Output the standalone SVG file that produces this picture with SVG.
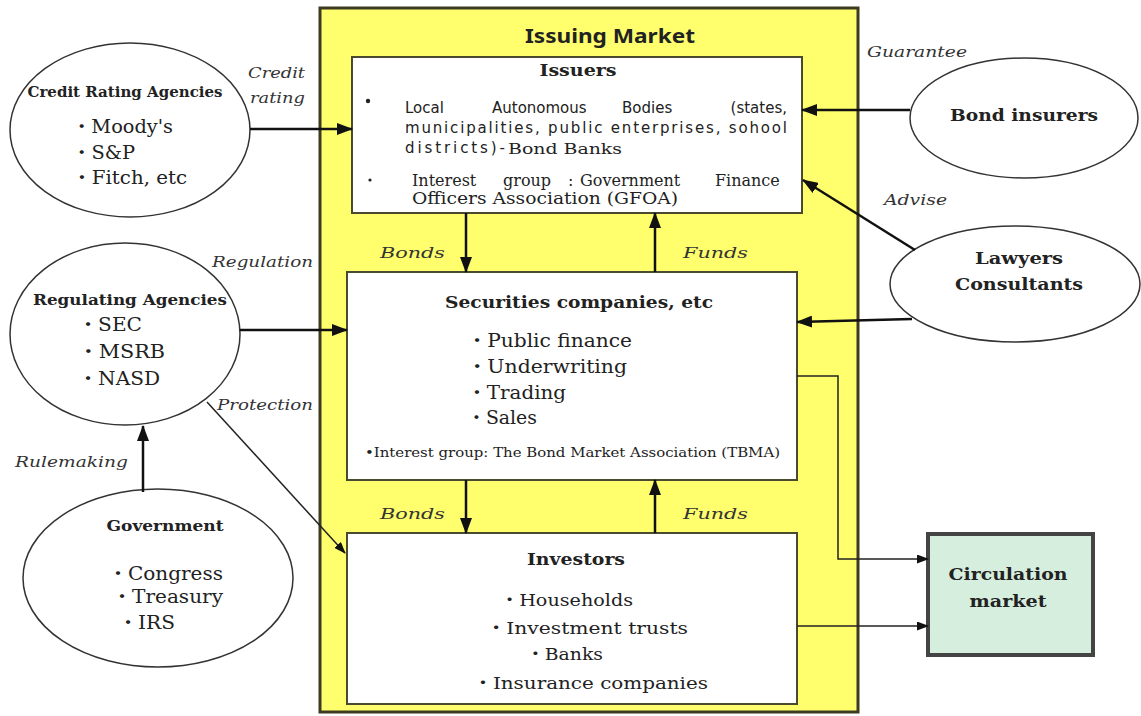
<svg xmlns="http://www.w3.org/2000/svg" width="1141" height="716" viewBox="0 0 1141 716">
<style>
.t{font-family:"DejaVu Serif","Noto Sans CJK JP",serif;fill:#222}
.b{font-weight:bold}
.lab{font-family:"DejaVu Serif",serif;font-style:italic;fill:#333;font-size:15px}
.g{font-family:"DejaVu Sans","Noto Sans CJK JP",sans-serif;fill:#222;font-size:15px}
.ell{fill:#fff;stroke:#333;stroke-width:1.5}
.box{fill:#fff;stroke:#4a4a30;stroke-width:2}
.c{stroke:#111;stroke-width:2.5;fill:none}
.thin{stroke:#222;stroke-width:1.5;fill:none}
</style>
<defs>
<marker id="ah" markerUnits="userSpaceOnUse" markerWidth="16" markerHeight="12" refX="15" refY="6" orient="auto"><path d="M0,0 L16,6 L0,12 z" fill="#111"/></marker>
<marker id="as" markerUnits="userSpaceOnUse" markerWidth="12" markerHeight="9" refX="11" refY="4.5" orient="auto"><path d="M0,0 L12,4.5 L0,9 z" fill="#111"/></marker>
</defs>
<rect width="1141" height="716" fill="#fff"/>
<g id="issuing-market">
<rect x="320" y="8" width="538" height="704" fill="#ffff6e" stroke="#3c3a20" stroke-width="3"/>
<text x="610" y="43" text-anchor="middle" font-family="'Noto Sans',sans-serif" font-weight="bold" font-size="20" fill="#222" textLength="170" lengthAdjust="spacingAndGlyphs">Issuing Market</text>
</g>
<g id="issuers">
<rect class="box" x="352" y="57" width="450" height="156"/>
<text class="t b" x="578" y="76" text-anchor="middle" font-size="16" textLength="77" lengthAdjust="spacingAndGlyphs">Issuers</text>
<circle cx="368" cy="101" r="2.2" fill="#222"/>
<text class="g" x="405" y="113">Local</text>
<text class="g" x="492" y="113">Autonomous</text>
<text class="g" x="622" y="113">Bodies</text>
<text class="g" x="787" y="113" text-anchor="end">(states,</text>
<text class="g" x="405" y="133" textLength="382" lengthAdjust="spacing">municipalities, public enterprises, sohool</text>
<text class="g" x="405" y="153" textLength="100" lengthAdjust="spacing">districts)-</text>
<text class="t" x="508" y="154" font-size="15" textLength="114" lengthAdjust="spacingAndGlyphs">Bond Banks</text>
<circle cx="370" cy="180" r="1.6" fill="#222"/>
<text class="t" y="186" font-size="16"><tspan x="412">Interest</tspan><tspan x="503">group</tspan><tspan x="568">:</tspan><tspan x="580">Government</tspan><tspan x="715">Finance</tspan></text>
<text class="t" x="412" y="204" font-size="16" textLength="266" lengthAdjust="spacingAndGlyphs">Officers Association (GFOA)</text>
</g>
<g id="securities">
<rect class="box" x="347" y="272" width="450" height="208"/>
<text class="t b" x="579" y="308" text-anchor="middle" font-size="17" textLength="268" lengthAdjust="spacingAndGlyphs">Securities companies, etc</text>
<text class="t" x="467" y="347" font-size="18" textLength="165" lengthAdjust="spacingAndGlyphs">・Public finance</text>
<text class="t" x="467" y="373" font-size="18" textLength="160" lengthAdjust="spacingAndGlyphs">・Underwriting</text>
<text class="t" x="467" y="399" font-size="18" textLength="99" lengthAdjust="spacingAndGlyphs">・Trading</text>
<text class="t" x="467" y="424" font-size="18" textLength="70" lengthAdjust="spacingAndGlyphs">・Sales</text>
<text class="t" x="365" y="457" font-size="13" textLength="415" lengthAdjust="spacingAndGlyphs">•Interest group: The Bond Market Association (TBMA)</text>
</g>
<g id="investors">
<rect class="box" x="347" y="533" width="450" height="171"/>
<text class="t b" x="576" y="565" text-anchor="middle" font-size="16" textLength="98" lengthAdjust="spacingAndGlyphs">Investors</text>
<text class="t" x="500" y="606" font-size="17" textLength="133" lengthAdjust="spacingAndGlyphs">・Households</text>
<text class="t" x="486" y="634" font-size="17" textLength="202" lengthAdjust="spacingAndGlyphs">・Investment trusts</text>
<text class="t" x="526" y="660" font-size="17" textLength="77" lengthAdjust="spacingAndGlyphs">・Banks</text>
<text class="t" x="473" y="689" font-size="17" textLength="235" lengthAdjust="spacingAndGlyphs">・Insurance companies</text>
</g>
<g id="circulation-market">
<rect x="928" y="534" width="165" height="121" fill="#d6eedd" stroke="#444" stroke-width="4"/>
<text class="t b" x="1008" y="580" text-anchor="middle" font-size="16" textLength="119" lengthAdjust="spacingAndGlyphs">Circulation</text>
<text class="t b" x="1008" y="607" text-anchor="middle" font-size="16" textLength="77" lengthAdjust="spacingAndGlyphs">market</text>
</g>
<g id="credit-rating-agencies">
<ellipse class="ell" cx="130" cy="130" rx="120" ry="87"/>
<text class="t b" x="125" y="97" text-anchor="middle" font-size="14" textLength="195" lengthAdjust="spacingAndGlyphs">Credit Rating Agencies</text>
<text class="t" x="72" y="133" font-size="18" textLength="101" lengthAdjust="spacingAndGlyphs">・Moody's</text>
<text class="t" x="72" y="159" font-size="18" textLength="63" lengthAdjust="spacingAndGlyphs">・S&amp;P</text>
<text class="t" x="72" y="184" font-size="18" textLength="115" lengthAdjust="spacingAndGlyphs">・Fitch, etc</text>
</g>
<g id="regulating-agencies">
<ellipse class="ell" cx="125" cy="334" rx="115" ry="91"/>
<text class="t b" x="130" y="305" text-anchor="middle" font-size="15" textLength="194" lengthAdjust="spacingAndGlyphs">Regulating Agencies</text>
<text class="t" x="78" y="331" font-size="18" textLength="64" lengthAdjust="spacingAndGlyphs">・SEC</text>
<text class="t" x="78" y="358" font-size="18" textLength="87" lengthAdjust="spacingAndGlyphs">・MSRB</text>
<text class="t" x="78" y="385" font-size="18" textLength="82" lengthAdjust="spacingAndGlyphs">・NASD</text>
</g>
<g id="government">
<ellipse class="ell" cx="158" cy="578" rx="135" ry="89"/>
<text class="t b" x="165" y="531" text-anchor="middle" font-size="15" textLength="117" lengthAdjust="spacingAndGlyphs">Government</text>
<text class="t" x="108" y="580" font-size="18" textLength="115" lengthAdjust="spacingAndGlyphs">・Congress</text>
<text class="t" x="112" y="603" font-size="18" textLength="111" lengthAdjust="spacingAndGlyphs">・Treasury</text>
<text class="t" x="118" y="629" font-size="18" textLength="57" lengthAdjust="spacingAndGlyphs">・IRS</text>
</g>
<g id="bond-insurers">
<ellipse class="ell" cx="1024" cy="118" rx="114" ry="60"/>
<text class="t b" x="1024" y="121" text-anchor="middle" font-size="16" textLength="148" lengthAdjust="spacingAndGlyphs">Bond insurers</text>
</g>
<g id="lawyers-consultants">
<ellipse class="ell" cx="1015" cy="284" rx="125" ry="58"/>
<text class="t b" x="1019" y="264" text-anchor="middle" font-size="16" textLength="88" lengthAdjust="spacingAndGlyphs">Lawyers</text>
<text class="t b" x="1019" y="290" text-anchor="middle" font-size="16" textLength="128" lengthAdjust="spacingAndGlyphs">Consultants</text>
</g>
<g id="connectors">
<line class="c" x1="250" y1="129" x2="352" y2="129" marker-end="url(#ah)"/>
<line class="c" x1="240" y1="330" x2="347" y2="330" marker-end="url(#ah)"/>
<line class="thin" x1="207" y1="402" x2="345" y2="553" marker-end="url(#as)"/>
<line class="c" x1="143" y1="492" x2="143" y2="426" marker-end="url(#ah)"/>
<line class="c" x1="910" y1="110" x2="802" y2="110" marker-end="url(#ah)"/>
<line class="c" x1="915" y1="250" x2="803" y2="180" marker-end="url(#ah)"/>
<line class="c" x1="912" y1="319" x2="797" y2="322" marker-end="url(#ah)"/>
<line class="c" x1="466" y1="213" x2="466" y2="272" marker-end="url(#ah)"/>
<line class="c" x1="655" y1="272" x2="655" y2="213" marker-end="url(#ah)"/>
<line class="c" x1="466" y1="480" x2="466" y2="533" marker-end="url(#ah)"/>
<line class="c" x1="655" y1="533" x2="655" y2="480" marker-end="url(#ah)"/>
<polyline class="thin" points="797,376 838,376 838,559 928,559" marker-end="url(#as)"/>
<line class="thin" x1="797" y1="626" x2="928" y2="626" marker-end="url(#as)"/>
<text class="lab" x="248" y="78" textLength="57" lengthAdjust="spacingAndGlyphs">Credit</text>
<text class="lab" x="250" y="103" textLength="55" lengthAdjust="spacingAndGlyphs">rating</text>
<text class="lab" x="212" y="267" textLength="101" lengthAdjust="spacingAndGlyphs">Regulation</text>
<text class="lab" x="217" y="410" textLength="96" lengthAdjust="spacingAndGlyphs">Protection</text>
<text class="lab" x="15" y="467" textLength="113" lengthAdjust="spacingAndGlyphs">Rulemaking</text>
<text class="lab" x="867" y="57" font-size="14" textLength="100" lengthAdjust="spacingAndGlyphs">Guarantee</text>
<text class="lab" x="884" y="205" textLength="63" lengthAdjust="spacingAndGlyphs">Advise</text>
<text class="lab" x="380" y="258" font-size="16" textLength="65" lengthAdjust="spacingAndGlyphs">Bonds</text>
<text class="lab" x="683" y="258" font-size="16" textLength="65" lengthAdjust="spacingAndGlyphs">Funds</text>
<text class="lab" x="380" y="519" font-size="16" textLength="65" lengthAdjust="spacingAndGlyphs">Bonds</text>
<text class="lab" x="683" y="519" font-size="16" textLength="65" lengthAdjust="spacingAndGlyphs">Funds</text>
</g>
</svg>
